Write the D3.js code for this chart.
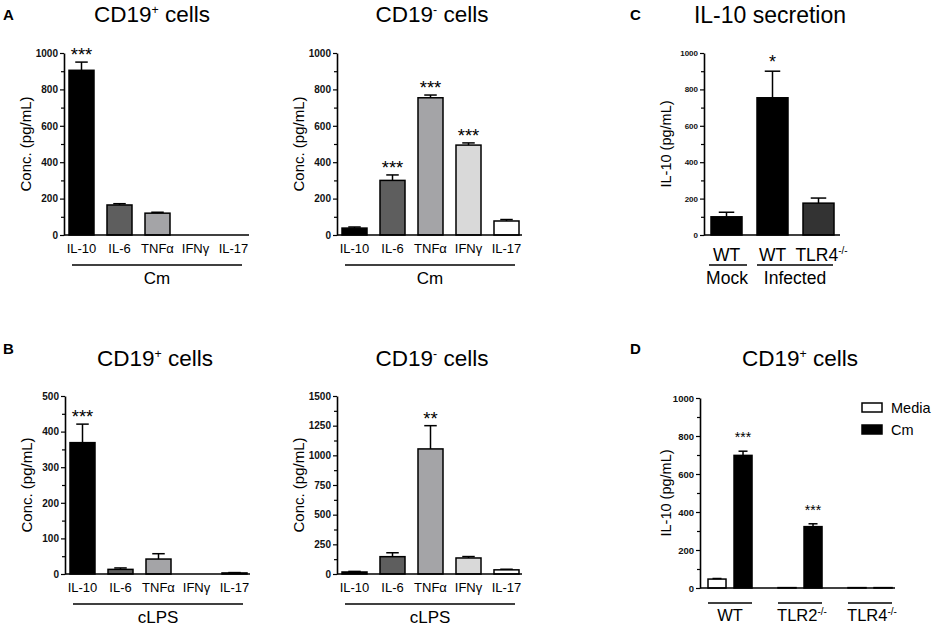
<!DOCTYPE html>
<html>
<head>
<meta charset="utf-8">
<script src="https://cdn.jsdelivr.net/npm/d3@7"></script>
<style>
  body { margin: 0; background: #fff; }
  svg { font-family: Arial, "Liberation Sans", sans-serif; }
</style>
</head>
<body>
<div id="chart"></div>
<script>
// Cytokine panels (A, B)
const cytokines = ["IL-10", "IL-6", "TNFα", "IFNγ", "IL-17"];
const cytoColors = ["#000000", "#5e5e5e", "#a4a4a7", "#d9d9d9", "#ffffff"];

const aPlusValues = [905, 165, 120, 0, 0];
const aPlusErrors = [45, 7, 5, 0, 0];
const aPlusStars = ["***", "", "", "", ""];

const aMinusValues = [38, 300, 754, 494, 77];
const aMinusErrors = [6, 30, 15, 12, 8];
const aMinusStars = ["", "***", "***", "***", ""];

const bPlusValues = [369, 13, 42, 0, 3];
const bPlusErrors = [52, 4, 15, 0, 1];
const bPlusStars = ["***", "", "", "", ""];

const bMinusValues = [17, 146, 1054, 135, 35];
const bMinusErrors = [5, 33, 196, 12, 5];
const bMinusStars = ["", "", "**", "", ""];

// Panel C
const cGroups = ["WT", "WT ", "TLR4"];
const cValues = [100, 754, 175];
const cErrors = [25, 146, 28];
const cStars = ["", "*", ""];
const cColors = ["#000000", "#000000", "#333333"];

// Panel D
const dGenotypes = ["WT", "TLR2", "TLR4"];
const dTreatments = ["Media", "Cm"];
const dMedia = [47, 2, 2];
const dMediaErr = [3, 0, 0];
const dCm = [698, 323, 2];
const dCmErr = [22, 15, 0];
const dCmStars = ["***", "***", ""];

// tick values
const ticks1000 = [0, 200, 400, 600, 800, 1000];
const ticks500 = [0, 100, 200, 300, 400, 500];
const ticks1500 = [0, 250, 500, 750, 1000, 1250, 1500];

const svg = d3.select("#chart").append("svg")
    .attr("width", 933)
    .attr("height", 626);

// y axis with major labelled ticks and minor ticks in between
function yAxis(axisX, y, ticks, fontSize) {
    const step = ticks[1] - ticks[0];
    const minor = d3.range(step / 2, ticks[ticks.length - 1], step);
    const g = svg.append("g").attr("transform", `translate(${axisX},0)`);
    g.append("g")
        .call(d3.axisLeft(y).tickValues(minor).tickSize(3).tickSizeOuter(0).tickFormat(""))
        .call(s => s.select(".domain").remove())
        .selectAll("line").attr("stroke-width", 1.2);
    g.append("g")
        .call(d3.axisLeft(y).tickValues(ticks).tickSize(4).tickSizeOuter(0).tickPadding(2)
            .tickFormat(d3.format("d")))
        .call(s => s.select(".domain").attr("stroke-width", 1.6))
        .call(s => s.selectAll("line").attr("stroke-width", 1.2))
        .call(s => s.selectAll("text")
            .attr("font-size", fontSize)
            .attr("font-weight", "bold")
            .attr("font-family", "Arial, 'Liberation Sans', sans-serif")
            .attr("fill", "#111"));
}

function baseline(x1, x2, yPos) {
    svg.append("line")
        .attr("x1", x1).attr("x2", x2)
        .attr("y1", yPos).attr("y2", yPos)
        .attr("stroke", "#000").attr("stroke-width", 1.6);
}

function title(x, yPos, main, sup, rest, size) {
    const t = svg.append("text")
        .attr("x", x).attr("y", yPos)
        .attr("text-anchor", "middle")
        .attr("font-size", size);
    t.append("tspan").text(main);
    if (sup) {
        t.append("tspan").attr("dy", -8).attr("font-size", size * 0.55).text(sup);
        t.append("tspan").attr("dy", 8).text(rest);
    }
}

function letter(x, yPos, txt) {
    svg.append("text").attr("x", x).attr("y", yPos)
        .attr("font-size", 15).attr("font-weight", "bold").text(txt);
}

function yLabel(x, yPos, txt, size) {
    svg.append("text")
        .attr("transform", `translate(${x},${yPos}) rotate(-90)`)
        .attr("text-anchor", "middle")
        .attr("font-size", size)
        .text(txt);
}

function bars(x, y, cats, values, errors, colors, stars, starSize, starGap) {
    const g = svg.append("g");
    const bw = x.bandwidth();
    cats.forEach((c, i) => {
        if (values[i] <= 0) return;
        g.append("rect")
            .attr("x", x(c))
            .attr("y", y(values[i]))
            .attr("width", bw)
            .attr("height", y(0) - y(values[i]))
            .attr("fill", colors[i])
            .attr("stroke", "#000")
            .attr("stroke-width", 1.5);
        const cx = x(c) + bw / 2;
        if (errors[i] > 0) {
            g.append("line")
                .attr("x1", cx).attr("x2", cx)
                .attr("y1", y(values[i])).attr("y2", y(values[i] + errors[i]))
                .attr("stroke", "#000").attr("stroke-width", 1.5);
            g.append("line")
                .attr("x1", cx - bw / 4).attr("x2", cx + bw / 4)
                .attr("y1", y(values[i] + errors[i])).attr("y2", y(values[i] + errors[i]))
                .attr("stroke", "#000").attr("stroke-width", 1.5);
        }
        if (stars[i]) {
            g.append("text")
                .attr("x", cx)
                .attr("y", y(values[i] + errors[i]) - starGap)
                .attr("text-anchor", "middle")
                .attr("font-size", starSize)
                .text(stars[i]);
        }
    });
}

// Cytokine panel (A/B)
function cytoPanel(o) {
    const y = d3.scaleLinear().domain([0, o.ticks[o.ticks.length - 1]]).range([o.yBottom, o.yTop]);
    const x = d3.scaleBand().domain(cytokines)
        .range([o.axisX + 5, o.axisX + 182]).paddingInner(0.342).paddingOuter(0).align(0);
    bars(x, y, cytokines, o.values, o.errors, cytoColors, o.stars, 18.5, 1);
    baseline(o.axisX, o.axisX + 185, o.yBottom);
    yAxis(o.axisX, y, o.ticks, 10);
    // category labels
    cytokines.forEach(c => {
        svg.append("text")
            .attr("x", x(c) + x.bandwidth() / 2)
            .attr("y", o.yBottom + 18)
            .attr("text-anchor", "middle")
            .attr("font-size", 13)
            .text(c);
    });
    baseline(o.axisX + 8, o.axisX + 178, o.yBottom + 30);
    svg.append("text")
        .attr("x", o.axisX + 93).attr("y", o.yBottom + 49)
        .attr("text-anchor", "middle").attr("font-size", 17)
        .text(o.group);
    yLabel(o.axisX - 33, (o.yTop + o.yBottom) / 2, "Conc. (pg/mL)", 15);
}

// A
letter(3, 20, "A");
title(152, 22, "CD19", "+", " cells", 22.5);
cytoPanel({ axisX: 64, yTop: 53, yBottom: 235, ticks: ticks1000,
    values: aPlusValues, errors: aPlusErrors, stars: aPlusStars, group: "Cm" });
title(432, 22, "CD19", "-", " cells", 22.5);
cytoPanel({ axisX: 337, yTop: 53, yBottom: 235, ticks: ticks1000,
    values: aMinusValues, errors: aMinusErrors, stars: aMinusStars, group: "Cm" });

// B
letter(3, 354, "B");
title(155, 366, "CD19", "+", " cells", 22.5);
cytoPanel({ axisX: 65, yTop: 396, yBottom: 574, ticks: ticks500,
    values: bPlusValues, errors: bPlusErrors, stars: bPlusStars, group: "cLPS" });
title(432, 366, "CD19", "-", " cells", 22.5);
cytoPanel({ axisX: 337, yTop: 396, yBottom: 574, ticks: ticks1500,
    values: bMinusValues, errors: bMinusErrors, stars: bMinusStars, group: "cLPS" });

// C
letter(630, 20, "C");
title(770, 23, "IL-10 secretion", null, null, 23);
{
    const axisX = 704, yTop = 53, yBottom = 235;
    const y = d3.scaleLinear().domain([0, 1000]).range([yBottom, yTop]);
    const x = d3.scaleBand().domain(cGroups)
        .range([711, 711 + 46 * (3 - 0.326)]).paddingInner(0.326).paddingOuter(0).align(0);
    bars(x, y, cGroups, cValues, cErrors, cColors, cStars, 18, 3);
    baseline(axisX, 840, yBottom);
    yAxis(axisX, y, ticks1000, 8);
    yLabel(671, 144, "IL-10 (pg/mL)", 14.5);
    const cx = c => x(c) + x.bandwidth() / 2;
    const lab = svg.append("g").attr("font-size", 17.5).attr("text-anchor", "middle");
    lab.append("text").attr("x", cx(cGroups[0])).attr("y", 261).text("WT");
    lab.append("text").attr("x", cx(cGroups[1])).attr("y", 261).text("WT");
    const t = lab.append("text").attr("x", cx(cGroups[2]) + 3).attr("y", 261);
    t.append("tspan").text("TLR4");
    t.append("tspan").attr("dy", -7).attr("font-size", 10).text("-/-");
    baseline(709, 747, 265);
    baseline(757, 833, 265);
    lab.append("text").attr("x", 727).attr("y", 284).text("Mock");
    lab.append("text").attr("x", 795).attr("y", 284).text("Infected");
}

// D
letter(630, 354, "D");
title(800, 366, "CD19", "+", " cells", 22.5);
{
    const axisX = 700, yTop = 398, yBottom = 588;
    const y = d3.scaleLinear().domain([0, 1000]).range([yBottom, yTop]);
    const x0 = d3.scaleBand().domain(dGenotypes)
        .range([708, 708 + 70 * (3 - 0.371)]).paddingInner(0.371).paddingOuter(0).align(0);
    const fills = { Media: "#ffffff", Cm: "#000000" };
    dGenotypes.forEach((gname, i) => {
        const xs = d3.scaleBand().domain(dTreatments)
            .range([x0(gname), x0(gname) + x0.bandwidth()])
            .paddingInner(0.3077).paddingOuter(0);
        bars(xs, y, dTreatments, [dMedia[i], dCm[i]], [dMediaErr[i], dCmErr[i]],
            [fills.Media, fills.Cm], ["", dCmStars[i]], 14, 9);
    });
    baseline(axisX, 895, yBottom);
    yAxis(axisX, y, ticks1000, 9.5);
    yLabel(671, 493, "IL-10 (pg/mL)", 14.5);
    dGenotypes.forEach(gname => {
        baseline(x0(gname), x0(gname) + x0.bandwidth(), 603);
        const t = svg.append("text")
            .attr("x", x0(gname) + x0.bandwidth() / 2 + (gname === "WT" ? 0 : 2))
            .attr("y", 621).attr("text-anchor", "middle").attr("font-size", 16.5);
        t.append("tspan").text(gname);
        if (gname !== "WT") t.append("tspan").attr("dy", -6).attr("font-size", 10).text("-/-");
    });
    // legend
    const legend = svg.append("g").attr("transform", "translate(862,403)");
    dTreatments.forEach((tr, i) => {
        legend.append("rect")
            .attr("x", 0).attr("y", i * 22)
            .attr("width", 20).attr("height", 9)
            .attr("fill", fills[tr]).attr("stroke", "#000").attr("stroke-width", 1.5);
        legend.append("text")
            .attr("x", 29).attr("y", i * 22 + 10)
            .attr("font-size", 14.5).text(tr);
    });
}
</script>
</body>
</html>
